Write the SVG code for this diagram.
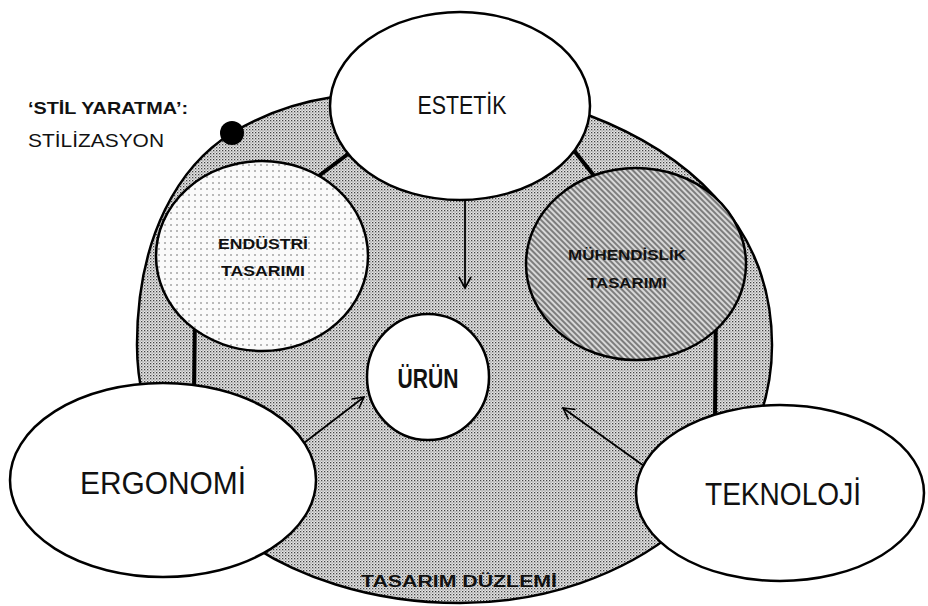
<svg xmlns="http://www.w3.org/2000/svg" width="928" height="606" viewBox="0 0 928 606">
<defs>
  <pattern id="dense" width="3" height="3" patternUnits="userSpaceOnUse">
    <rect width="3" height="3" fill="#e6e6e6"/>
    <rect x="0" y="0" width="1.3" height="1.3" fill="#444"/>
    <rect x="1.5" y="1.5" width="1.1" height="1.1" fill="#777"/>
  </pattern>
  <pattern id="sparse" width="6" height="6" patternUnits="userSpaceOnUse">
    <rect width="6" height="6" fill="#fafafa"/>
    <circle cx="3" cy="3" r="0.8" fill="#666"/>
  </pattern>
  <pattern id="hatch" width="4" height="4" patternUnits="userSpaceOnUse" patternTransform="rotate(45)">
    <rect width="4" height="4" fill="#d8d8d8"/>
    <line x1="0" y1="1" x2="4" y2="1" stroke="#555" stroke-width="1.4"/>
  </pattern>
  <marker id="arr" markerWidth="14" markerHeight="14" refX="12" refY="7" orient="auto" markerUnits="userSpaceOnUse">
    <path d="M1,1 L12,7 L1,13" fill="none" stroke="#000" stroke-width="1.6"/>
  </marker>
</defs>
<style>
  .node { stroke:#000; stroke-width:2.5; }
  .white { fill:#fff; }
  .t { font-family:"Liberation Sans", Arial, sans-serif; fill:#111; text-anchor:middle; }
  .b { font-weight:bold; }
  .bar { stroke:#000; stroke-width:4; }
  .arrow { stroke:#000; stroke-width:1.8; fill:none; marker-end:url(#arr); }
</style>
<rect width="928" height="606" fill="#fff"/>

<g id="plane">
  <path d="M460,603 C285,603 137,500 137,345 C137,235 180,165 232,133 C265,113 300,102 333,97 L588,115 C680,150 772,220 772,345 C772,490 630,603 460,603 Z" fill="url(#dense)" class="node"/>
  <text class="t b" x="459" y="587" font-size="16" textLength="196" lengthAdjust="spacingAndGlyphs">TASARIM DÜZLEMİ</text>
</g>

<g id="connectors">
  <line class="bar" x1="300" y1="190" x2="360" y2="145"/>
  <line class="bar" x1="572" y1="148" x2="610" y2="196"/>
  <line class="bar" x1="195" y1="310" x2="194" y2="395"/>
  <line class="bar" x1="716" y1="290" x2="715" y2="420"/>
  <line class="arrow" x1="465" y1="201" x2="465" y2="288"/>
  <line class="arrow" x1="300" y1="446" x2="364" y2="397"/>
  <line class="arrow" x1="644" y1="466" x2="563" y2="408"/>
</g>

<g id="stil">
  <circle cx="232" cy="133" r="12" fill="#000"/>
  <text class="t b" x="28" y="114" font-size="17" style="text-anchor:start" textLength="160" lengthAdjust="spacingAndGlyphs">‘STİL YARATMA’:</text>
  <text class="t" x="28" y="147" font-size="18" style="text-anchor:start" textLength="136" lengthAdjust="spacingAndGlyphs">STİLİZASYON</text>
</g>

<g id="estetik">
  <ellipse cx="460" cy="106" rx="130" ry="94" class="node white"/>
  <text class="t" x="462" y="114" font-size="26" textLength="89" lengthAdjust="spacingAndGlyphs">ESTETİK</text>
</g>

<g id="endustri">
  <ellipse cx="262" cy="256" rx="106" ry="95" fill="url(#sparse)" class="node"/>
  <text class="t b" x="263" y="249" font-size="15" textLength="90" lengthAdjust="spacingAndGlyphs">ENDÜSTRİ</text>
  <text class="t b" x="263" y="276" font-size="15" textLength="84" lengthAdjust="spacingAndGlyphs">TASARIMI</text>
</g>

<g id="muhendislik">
  <ellipse cx="636" cy="264" rx="110" ry="96" fill="url(#hatch)" class="node"/>
  <text class="t b" x="627" y="260" font-size="15" textLength="118" lengthAdjust="spacingAndGlyphs">MÜHENDİSLİK</text>
  <text class="t b" x="627" y="288" font-size="15" textLength="80" lengthAdjust="spacingAndGlyphs">TASARIMI</text>
</g>

<g id="urun">
  <ellipse cx="428" cy="377" rx="61" ry="63" class="node white"/>
  <text class="t b" x="428" y="388" font-size="27" textLength="61" lengthAdjust="spacingAndGlyphs">ÜRÜN</text>
</g>

<g id="ergonomi">
  <ellipse cx="163" cy="480" rx="153" ry="97" class="node white"/>
  <text class="t" x="163" y="494" font-size="31" textLength="166" lengthAdjust="spacingAndGlyphs">ERGONOMİ</text>
</g>

<g id="teknoloji">
  <ellipse cx="780" cy="493" rx="144" ry="88" class="node white"/>
  <text class="t" x="783" y="505" font-size="31" textLength="156" lengthAdjust="spacingAndGlyphs">TEKNOLOJİ</text>
</g>
</svg>
